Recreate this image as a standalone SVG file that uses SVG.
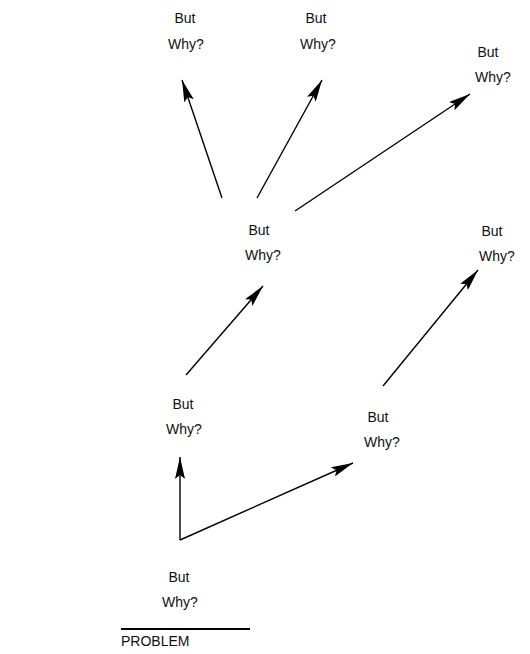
<svg xmlns="http://www.w3.org/2000/svg" width="530" height="654" viewBox="0 0 530 654">
<style>
.t{font-family:"Liberation Sans",Arial,sans-serif;font-size:14px;fill:#111;text-anchor:middle}
.c{stroke:#000;stroke-width:1.4;fill:none}
</style>
<defs>
<marker id="ah" viewBox="0 0 22 10" refX="22" refY="5" markerWidth="22" markerHeight="10" markerUnits="userSpaceOnUse" orient="auto">
<path d="M0,0 L22,5 L0,10 L4,5 Z" fill="#000"/>
</marker>
</defs>
<rect width="530" height="654" fill="#fff"/>
<g id="connectors">
<line class="c" x1="222" y1="198" x2="182" y2="80" marker-end="url(#ah)"/>
<line class="c" x1="257" y1="198" x2="322" y2="80" marker-end="url(#ah)"/>
<line class="c" x1="295" y1="211" x2="470" y2="94" marker-end="url(#ah)"/>
<line class="c" x1="186" y1="375" x2="263" y2="286" marker-end="url(#ah)"/>
<line class="c" x1="383" y1="386" x2="478" y2="270" marker-end="url(#ah)"/>
<line class="c" x1="180" y1="540" x2="180" y2="457" marker-end="url(#ah)"/>
<line class="c" x1="180" y1="540" x2="353" y2="463" marker-end="url(#ah)"/>
</g>
<g id="n1"><text class="t" x="185" y="23">But</text><text class="t" x="186" y="49">Why?</text></g>
<g id="n2"><text class="t" x="316" y="23">But</text><text class="t" x="318" y="49">Why?</text></g>
<g id="n3"><text class="t" x="488" y="57">But</text><text class="t" x="493" y="82">Why?</text></g>
<g id="n4"><text class="t" x="259" y="235">But</text><text class="t" x="263" y="260">Why?</text></g>
<g id="n5"><text class="t" x="492" y="236">But</text><text class="t" x="497" y="261">Why?</text></g>
<g id="n6"><text class="t" x="183" y="409">But</text><text class="t" x="184" y="434">Why?</text></g>
<g id="n7"><text class="t" x="378" y="422">But</text><text class="t" x="382" y="447">Why?</text></g>
<g id="n8"><text class="t" x="179" y="582">But</text><text class="t" x="180" y="607">Why?</text></g>
<g id="problem">
<line x1="121" y1="629" x2="250" y2="629" stroke="#000" stroke-width="2"/>
<text x="121" y="646" style="font-family:'Liberation Sans',Arial,sans-serif;font-size:14px;fill:#111">PROBLEM</text>
</g>
</svg>
